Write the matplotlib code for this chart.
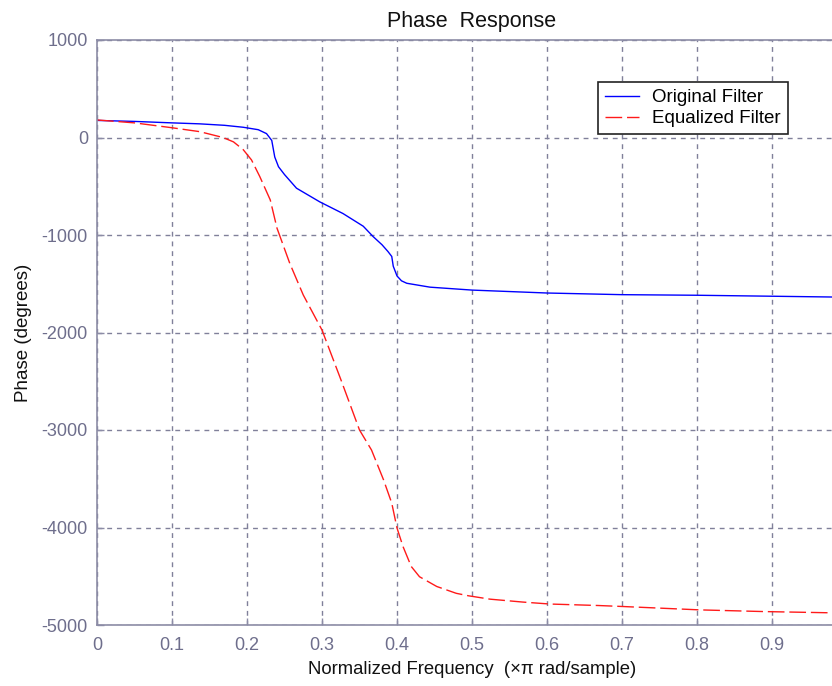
import matplotlib
matplotlib.use("Agg")
import matplotlib.pyplot as plt

# Phase of the original filter (degrees) vs normalized frequency
freq_orig = [0.0, 0.05, 0.1, 0.137, 0.17, 0.195, 0.215, 0.226, 0.233, 0.237,
             0.242, 0.25, 0.266, 0.297, 0.328, 0.355, 0.368, 0.38, 0.388, 0.393,
             0.395, 0.4, 0.406, 0.413, 0.444, 0.5, 0.6, 0.7, 0.8, 0.9, 1.0]
phase_orig = [175, 165, 150, 140, 125, 105, 80, 40, -30, -200,
              -300, -380, -520, -660, -780, -910, -1015, -1100, -1170, -1220,
              -1320, -1420, -1470, -1495, -1535, -1565, -1595, -1612, -1618, -1628, -1638]

# Phase of the equalized filter (degrees)
freq_eq = [0.0, 0.05, 0.1, 0.137, 0.168, 0.182, 0.195, 0.206, 0.217, 0.231,
           0.24, 0.257, 0.275, 0.3, 0.325, 0.35, 0.366, 0.382, 0.393, 0.4,
           0.408, 0.419, 0.43, 0.453, 0.479, 0.495, 0.524, 0.568, 0.604, 0.668,
           0.7, 0.804, 0.888, 1.0]
phase_eq = [180, 150, 100, 60, 0, -45, -125, -230, -400, -640,
            -930, -1290, -1615, -1975, -2480, -3000, -3205, -3510, -3750, -4005,
            -4195, -4400, -4505, -4605, -4675, -4700, -4735, -4765, -4785, -4800,
            -4810, -4845, -4862, -4878]

x_ticks = [0, 0.1, 0.2, 0.3, 0.4, 0.5, 0.6, 0.7, 0.8, 0.9]
x_tick_labels = ["0", "0.1", "0.2", "0.3", "0.4", "0.5", "0.6", "0.7", "0.8", "0.9"]
y_ticks = [-5000, -4000, -3000, -2000, -1000, 0, 1000]

plt.rcParams['font.family'] = ['Liberation Sans', 'DejaVu Sans']

axis_col = '#8c8ca6'
tick_col = '#6e6e8c'

fig = plt.figure(figsize=(8.32, 6.86), dpi=100)
ax = fig.add_axes([97 / 832, 1 - 625 / 686, 750 / 832, 585 / 686])

ax.plot(freq_orig, phase_orig, color='#0000ff', lw=1.0, label='Original Filter')
ln, = ax.plot(freq_eq, phase_eq, color='#ff1a1a', lw=1.0, label='Equalized Filter')
ln.set_dashes([12, 3.5])

ax.set_xlim(0, 1)
ax.set_ylim(-5000, 1000)
ax.set_xticks(x_ticks)
ax.set_xticklabels(x_tick_labels)
ax.set_yticks(y_ticks)
ax.set_yticklabels([str(v) for v in y_ticks])

ax.grid(True, color='#80809a', linestyle=(0, (3.5, 3.5)), linewidth=1.0)
ax.tick_params(direction='in', length=5, color=axis_col, labelcolor=tick_col,
               labelsize=13, width=1.0)
ax.tick_params(axis='x', pad=9)
ax.tick_params(axis='y', pad=6.5)
for s in ax.spines.values():
    s.set_color(axis_col)
    s.set_linewidth(1.2)

ax.set_title('Phase  Response', fontsize=15.5, color='#111111', pad=9)
ax.set_xlabel('Normalized Frequency  (\u00d7\u03c0 rad/sample)', fontsize=13.3,
              color='#111111', labelpad=5)
ax.set_ylabel('Phase (degrees)', fontsize=13.5, color='#111111', labelpad=7)

leg = ax.legend(loc='upper left', bbox_to_anchor=(0.668, 0.928), fontsize=13.5,
                frameon=True, fancybox=False, edgecolor='#222222',
                handlelength=1.8, borderpad=0.38, labelspacing=0.2,
                handletextpad=0.7, borderaxespad=0)
leg.get_frame().set_linewidth(1.2)
leg.get_frame().set_alpha(1)

fig.savefig('out.png', dpi=100)
